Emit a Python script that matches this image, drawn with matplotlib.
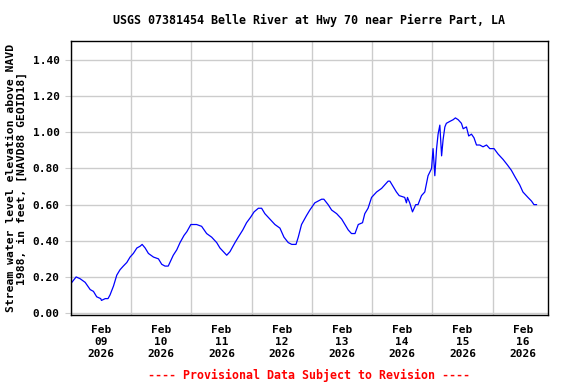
import numpy as np
import pandas as pd
import matplotlib
matplotlib.use('Agg')
import matplotlib.pyplot as plt
import matplotlib.dates as mdates

# hours after Feb 09 2026 00:00 and water level (ft)
hours = [0.4, 2.1, 3.7, 5.7, 7.7, 9.0, 10.3, 11.9, 12.2, 13.7, 14.8, 15.6, 17.0, 18.3,
         19.6, 20.9, 22.3, 23.6, 24.9, 26.3, 27.6, 28.4, 29.6, 30.9, 32.9, 34.9, 36.2,
         37.5, 38.8, 40.8, 42.2, 43.5, 45.1, 46.2, 47.8, 50.1, 52.1, 54.1, 56.1, 58.1,
         59.4, 61.4, 62.1, 63.4, 65.4, 66.7, 68.5, 70.0, 71.6, 73.0, 74.7, 76.0, 77.3,
         79.3, 81.3, 83.3, 84.9, 86.6, 88.0, 89.7, 90.6, 91.9, 93.9, 95.2, 97.2, 99.9,
         100.8, 102.5, 103.9, 105.9, 107.9, 109.2, 110.5, 111.8, 113.2, 114.5, 116.2,
         117.1, 118.4, 119.8, 121.8, 123.8, 125.1, 126.4, 127.1, 128.4, 129.7, 130.8,
         133.0, 133.7, 134.1, 135.0, 136.1, 137.4, 138.3, 139.7, 141.0, 142.3, 143.7,
         144.3, 145.0, 145.7, 146.3, 147.0, 147.7, 148.3, 149.0, 149.6, 150.9, 152.3,
         153.2, 154.3, 155.6, 156.3, 157.6, 158.5, 159.6, 160.6, 161.6, 162.9, 164.2,
         165.6, 166.9, 168.6, 170.2, 172.2, 173.9, 175.5, 177.1, 178.8, 180.1, 182.1,
         183.5, 184.5, 185.5]
levels = [0.17, 0.20, 0.19, 0.17, 0.13, 0.12, 0.09, 0.08, 0.07, 0.08, 0.08, 0.10, 0.15,
          0.21, 0.24, 0.26, 0.28, 0.31, 0.33, 0.36, 0.37, 0.38, 0.36, 0.33, 0.31, 0.30,
          0.27, 0.26, 0.26, 0.32, 0.35, 0.39, 0.43, 0.45, 0.49, 0.49, 0.48, 0.44, 0.42,
          0.39, 0.36, 0.33, 0.32, 0.34, 0.39, 0.42, 0.46, 0.50, 0.53, 0.56, 0.58, 0.58,
          0.55, 0.52, 0.49, 0.47, 0.42, 0.39, 0.38, 0.38, 0.42, 0.49, 0.54, 0.57, 0.61,
          0.63, 0.63, 0.60, 0.57, 0.55, 0.52, 0.49, 0.46, 0.44, 0.44, 0.49, 0.50, 0.55,
          0.58, 0.64, 0.67, 0.69, 0.71, 0.73, 0.73, 0.70, 0.67, 0.65, 0.64, 0.61, 0.64,
          0.61, 0.56, 0.60, 0.60, 0.65, 0.67, 0.76, 0.80, 0.91, 0.76, 0.91, 0.99, 1.04,
          0.87, 0.96, 1.03, 1.05, 1.06, 1.07, 1.08, 1.07, 1.05, 1.02, 1.03, 0.98, 0.99,
          0.97, 0.93, 0.93, 0.92, 0.93, 0.91, 0.91, 0.88, 0.85, 0.82, 0.79, 0.75, 0.71,
          0.67, 0.64, 0.62, 0.60, 0.60]

start = pd.Timestamp('2026-02-09 00:00')
end = pd.Timestamp('2026-02-16 22:00')
times = start + pd.to_timedelta(hours, unit='h')

title = 'USGS 07381454 Belle River at Hwy 70 near Pierre Part, LA'
ylab = 'Stream water level elevation above NAVD\n1988, in feet, [NAVD88 GEOID18]'
footer = '---- Provisional Data Subject to Revision ----'

plt.rcParams['font.family'] = 'DejaVu Sans Mono'
plt.rcParams['font.weight'] = 'bold'
plt.rcParams['font.size'] = 8

fig = plt.figure(figsize=(5.76, 3.84), dpi=100)
ax = fig.add_axes([0.123, 0.180, 0.828, 0.713])

ax.plot(times, levels, color='#0000ff', lw=0.9)

ax.set_xlim(start, end)
ax.set_ylim(-0.01, 1.505)
ax.set_yticks(np.arange(0, 1.41, 0.2))
ax.set_yticklabels(['%.2f' % v for v in np.arange(0, 1.41, 0.2)], fontweight='bold')

# labels at noon, grid at midnight
ax.xaxis.set_major_locator(mdates.HourLocator(byhour=[12]))
ax.xaxis.set_major_formatter(mdates.DateFormatter('%b\n%d\n%Y'))
ax.xaxis.set_minor_locator(mdates.DayLocator())
ax.tick_params(axis='x', which='major', length=0, pad=7)
ax.tick_params(axis='x', which='minor', length=0)
ax.tick_params(axis='y', length=4, color='#cccccc', pad=4)
for lbl in ax.get_xticklabels():
    lbl.set_fontweight('bold')
    lbl.set_linespacing(1.25)

ax.grid(True, which='minor', axis='x', color='#cccccc', lw=1)
ax.grid(True, which='major', axis='y', color='#cccccc', lw=1)
ax.set_axisbelow(True)
for s in ax.spines.values():
    s.set_linewidth(1)
    s.set_color('black')

ax.set_title(title, fontsize=8.4, fontweight='bold', pad=12)
ax.set_ylabel(ylab, fontsize=8.2, fontweight='bold', linespacing=1.1, labelpad=4)
fig.text(0.537, 1 - 375 / 384, footer, color='red', ha='center', va='center',
         fontsize=8.4, fontweight='bold')

fig.savefig('out.png', dpi=100)
